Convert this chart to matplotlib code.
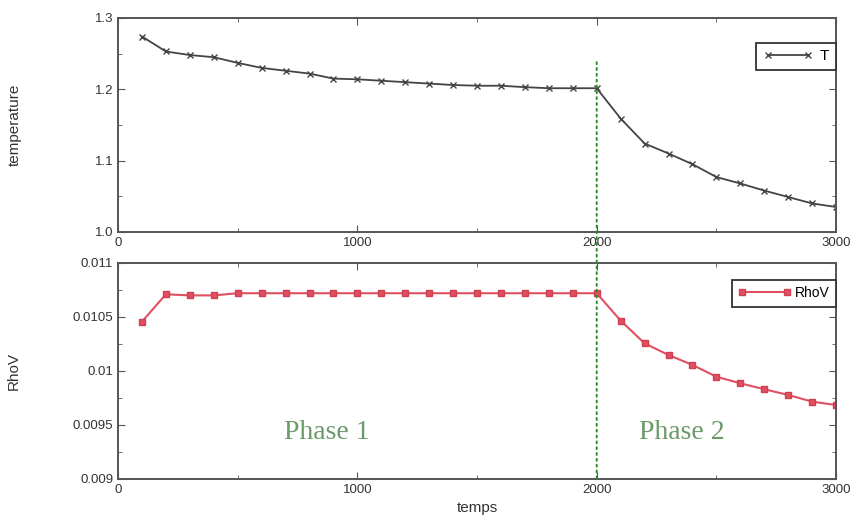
import numpy as np
import matplotlib
matplotlib.use("Agg")
import matplotlib.pyplot as plt
from matplotlib.patches import ConnectionPatch
from matplotlib.ticker import MultipleLocator

plt.rcParams['font.family'] = ['Liberation Sans', 'DejaVu Sans']

# data
temps = np.arange(100, 3001, 100)
T = [1.274, 1.253, 1.248, 1.245, 1.237, 1.230, 1.226, 1.222, 1.215, 1.214,
     1.212, 1.210, 1.208, 1.206, 1.205, 1.205, 1.203, 1.2015, 1.2015, 1.2015,
     1.159, 1.124, 1.110, 1.095, 1.077, 1.068, 1.058, 1.049, 1.040, 1.035]
rhov = [0.010457, 0.01071, 0.0107, 0.0107, 0.01072, 0.01072, 0.01072, 0.01072,
        0.01072, 0.01072, 0.01072, 0.01072, 0.01072, 0.01072, 0.01072, 0.01072,
        0.01072, 0.01072, 0.01072, 0.01072, 0.010466, 0.010256, 0.010148,
        0.010056, 0.009947, 0.009886, 0.009831, 0.009778, 0.009716, 0.009685]
x_ticks = [0, 1000, 2000, 3000]
t_ticks = [1.0, 1.1, 1.2, 1.3]
r_ticks = [0.009, 0.0095, 0.01, 0.0105, 0.011]
r_labels = ['0.009', '0.0095', '0.01', '0.0105', '0.011']
phase_x = 2000

fig = plt.figure(figsize=(8.59, 5.22), dpi=100)
ax1 = fig.add_axes([0.1374, 0.5556, 0.8359, 0.41])
ax2 = fig.add_axes([0.1374, 0.0824, 0.8359, 0.4138])

grey = '#555555'


def style(ax):
    for s in ax.spines.values():
        s.set_color(grey)
        s.set_linewidth(1.4)
    ax.tick_params(which='both', direction='in', top=True, right=True,
                   colors=grey, labelcolor='#333333', labelsize=9.5)
    ax.tick_params(which='major', length=5)
    ax.tick_params(which='minor', length=3)
    ax.set_xlim(0, 3000)
    ax.set_xticks(x_ticks)
    ax.xaxis.set_minor_locator(MultipleLocator(500))


ax1.plot(temps, T, color='#444444', lw=1.3, marker='x', ms=4, mew=1,
         label='T')
style(ax1)
ax1.set_ylim(1.0, 1.3)
ax1.set_yticks(t_ticks)
ax1.set_yticklabels(['1.0', '1.1', '1.2', '1.3'])
ax1.yaxis.set_minor_locator(MultipleLocator(0.05))
ax1.set_ylabel('temperature', fontsize=11, color='#333333')
ax1.yaxis.set_label_coords(-0.134, 0.5)
leg = ax1.legend(loc='upper right', bbox_to_anchor=(1.0, 0.885),
                 fancybox=False, framealpha=1, edgecolor='#333333',
                 numpoints=2, handlelength=3.2, handletextpad=0.5,
                 fontsize=11, borderpad=0.45, borderaxespad=0)
leg.get_frame().set_linewidth(1.3)

ax2.plot(temps, rhov, color='#e05060', lw=1.5, marker='s', ms=4,
         mec='#d04050', label='RhoV')
style(ax2)
ax2.set_ylim(0.009, 0.011)
ax2.set_yticks(r_ticks)
ax2.set_yticklabels(r_labels)
ax2.yaxis.set_minor_locator(MultipleLocator(0.00025))
ax2.set_ylabel('RhoV', fontsize=11, color='#333333')
ax2.yaxis.set_label_coords(-0.136, 0.5)
ax2.set_xlabel('temps', fontsize=11, color='#333333', labelpad=4)
leg2 = ax2.legend(loc='upper right', bbox_to_anchor=(1.0, 0.921),
                  fancybox=False, framealpha=1, edgecolor='#333333',
                  numpoints=2, handlelength=3.8, handletextpad=0.3,
                  fontsize=10, borderpad=0.45, borderaxespad=0)
leg2.get_frame().set_linewidth(1.3)

ax2.text(873, 0.009435, 'Phase 1', family=['Liberation Serif', 'DejaVu Serif'],
         fontsize=20, color='#6a9a6a', ha='center', va='center')
ax2.text(2357, 0.009435, 'Phase 2', family=['Liberation Serif', 'DejaVu Serif'],
         fontsize=20, color='#6a9a6a', ha='center', va='center')

con = ConnectionPatch(xyA=(phase_x, 1.238), coordsA=ax1.transData,
                      xyB=(phase_x, 0.009), coordsB=ax2.transData,
                      color='#2e8b2e', ls=(0, (1, 2)), lw=1.4)
fig.add_artist(con)

fig.savefig('out.png', dpi=100)
